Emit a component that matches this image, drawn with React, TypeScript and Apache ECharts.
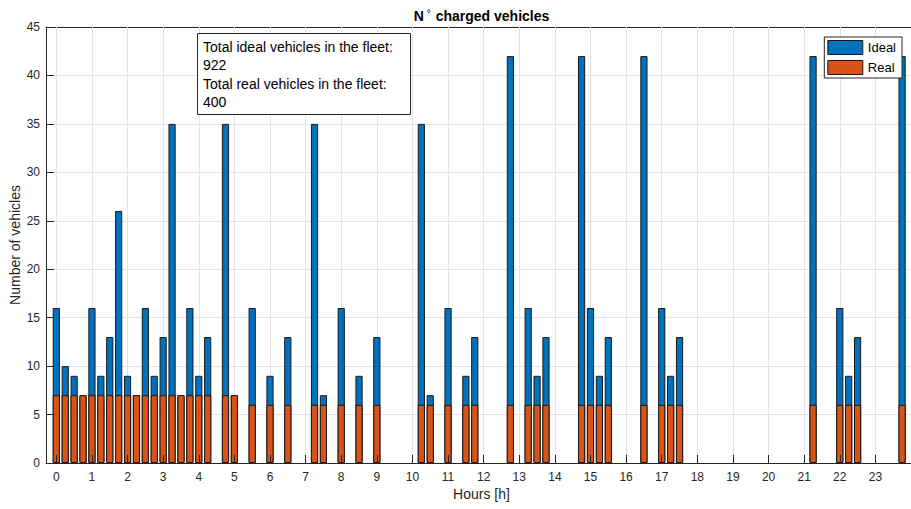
import React, { useEffect, useRef } from "react";
import * as echarts from "echarts";

// Quarter-hour slots (in hours) where at least one vehicle is charging
const slotHours = [
  0, 0.25, 0.5, 0.75, 1, 1.25, 1.5, 1.75, 2, 2.25, 2.5, 2.75, 3, 3.25, 3.5, 3.75, 4, 4.25,
  4.75, 5, 5.5, 6, 6.5, 7.25, 7.5, 8, 8.5, 9, 10.25, 10.5, 11, 11.5, 11.75, 12.75, 13.25,
  13.5, 13.75, 14.75, 15, 15.25, 15.5, 16.5, 17, 17.25, 17.5, 21.25, 22, 22.25, 22.5, 23.75,
];

// Charged vehicles per slot, ideal fleet
const idealVehicles = [
  16, 10, 9, 7, 16, 9, 13, 26, 9, 7, 16, 9, 13, 35, 7, 16, 9, 13,
  35, 7, 16, 9, 13, 35, 7, 16, 9, 13, 35, 7, 16, 9, 13, 42, 16,
  9, 13, 42, 16, 9, 13, 42, 16, 9, 13, 42, 16, 9, 13, 42,
];

// Charged vehicles per slot, real fleet
const realVehicles = [
  7, 7, 7, 7, 7, 7, 7, 7, 7, 7, 7, 7, 7, 7, 7, 7, 7, 7,
  7, 7, 6, 6, 6, 6, 6, 6, 6, 6, 6, 6, 6, 6, 6, 6, 6,
  6, 6, 6, 6, 6, 6, 6, 6, 6, 6, 6, 6, 6, 6, 6,
];

const hourTicks = Array.from({ length: 24 }, (_, i) => i);
const seriesNames = ["Ideal", "Real"];
const fleetNote = [
  "Total ideal vehicles in the fleet:",
  "922",
  "Total real vehicles in the fleet:",
  "400",
];

const FONT = "'Liberation Sans', Arial, Helvetica, sans-serif";
const INK = "#262626";
const GRID = "#e4e4e4";
const BLUE = "#0072BD";
const ORANGE = "#D95319";
const EDGE = "#1a1a1a";

const X_MIN = -0.29;
const X_MAX = 24;

export default function App() {
  const ref = useRef<HTMLDivElement>(null);

  useEffect(() => {
    if (!ref.current) return;
    const chart = echarts.init(ref.current, null, { renderer: "svg" });

    const idealData = slotHours.map((h, i) => [h, idealVehicles[i]]);
    const realData = slotHours.map((h, i) => [h, realVehicles[i]]);

    const xCommon = {
      type: "value",
      min: X_MIN,
      max: X_MAX,
      splitLine: { show: false },
    };
    const yCommon = {
      type: "value",
      min: 0,
      max: 45,
      interval: 5,
    };

    chart.setOption({
      animation: false,
      backgroundColor: "#ffffff",
      grid: { left: 46, top: 27, width: 872, height: 436, containLabel: false },
      xAxis: [
        {
          ...xCommon,
          position: "bottom",
          axisLine: { show: false, onZero: false },
          axisTick: { show: false },
          axisLabel: {
            customValues: hourTicks,
            color: INK,
            fontFamily: FONT,
            fontSize: 12,
            margin: 8,
          },
        },
        {
          ...xCommon,
          position: "top",
          axisLine: { show: true, onZero: false, lineStyle: { color: INK, width: 1 } },
          axisTick: {
            show: true,
            inside: true,
            length: 8,
            customValues: hourTicks,
            lineStyle: { color: INK, width: 1 },
          },
          axisLabel: { show: false },
        },
        {
          ...xCommon,
          position: "bottom",
          z: 5,
          axisLine: { show: true, onZero: false, lineStyle: { color: INK, width: 1 } },
          axisTick: {
            show: true,
            inside: true,
            length: 8,
            customValues: hourTicks,
            lineStyle: { color: INK, width: 1 },
          },
          axisLabel: { show: false },
        },
      ],
      yAxis: [
        {
          ...yCommon,
          position: "left",
          axisLine: { show: false, onZero: false },
          axisTick: { show: false },
          axisLabel: { color: INK, fontFamily: FONT, fontSize: 12, margin: 6 },
          splitLine: { show: true, lineStyle: { color: GRID, width: 1 } },
        },
        {
          ...yCommon,
          position: "left",
          z: 5,
          axisLine: { show: true, onZero: false, lineStyle: { color: INK, width: 1 } },
          axisTick: { show: true, inside: true, length: 8, lineStyle: { color: INK, width: 1 } },
          axisLabel: { show: false },
          splitLine: { show: false },
        },
      ],
      legend: {
        orient: "vertical",
        right: 9,
        top: 37,
        itemWidth: 35,
        itemHeight: 14,
        itemGap: 5,
        padding: [3, 6, 3, 3],
        backgroundColor: "#ffffff",
        borderColor: INK,
        borderWidth: 1,
        borderRadius: 0,
        textStyle: { color: "#000000", fontFamily: FONT, fontSize: 13 },
        data: [
          { name: seriesNames[0], icon: "rect", itemStyle: { color: BLUE, borderColor: EDGE, borderWidth: 1 } },
          { name: seriesNames[1], icon: "rect", itemStyle: { color: ORANGE, borderColor: EDGE, borderWidth: 1 } },
        ],
      },
      series: [
        {
          // vertical grid lines at each hour, kept behind the bars
          type: "line",
          name: "hourGrid",
          data: [],
          z: 1,
          silent: true,
          markLine: {
            z: 1,
            silent: true,
            symbol: "none",
            label: { show: false },
            lineStyle: { color: GRID, width: 1, type: "solid" },
            data: hourTicks.map((h) => ({ xAxis: h })),
          },
        },
        {
          type: "bar",
          name: seriesNames[0],
          data: idealData,
          barWidth: 7.2,
          barGap: "-100%",
          z: 2,
          itemStyle: { color: BLUE, borderColor: EDGE, borderWidth: 1 },
        },
        {
          type: "bar",
          name: seriesNames[1],
          data: realData,
          barWidth: 7.2,
          barGap: "-100%",
          z: 3,
          itemStyle: { color: ORANGE, borderColor: EDGE, borderWidth: 1 },
        },
      ],
      graphic: [
        {
          type: "text",
          x: 481.5,
          y: 16,
          z: 10,
          style: {
            text: "{b|N}{s|°}{b| charged vehicles}",
            align: "center",
            verticalAlign: "middle",
            fill: "#000000",
            rich: {
              b: { fontFamily: FONT, fontSize: 14, fontWeight: "bold", fill: "#000000" },
              s: {
                fontFamily: FONT,
                fontSize: 10,
                fill: "#000000",
                verticalAlign: "top",
                padding: [0, 1, 6, 3],
              },
            },
          },
        },
        {
          type: "text",
          x: 481.5,
          y: 494,
          style: {
            text: "Hours [h]",
            align: "center",
            verticalAlign: "middle",
            fill: INK,
            fontFamily: FONT,
            fontSize: 14,
          },
        },
        {
          type: "text",
          x: 15,
          y: 245,
          rotation: Math.PI / 2,
          style: {
            text: "Number of vehicles",
            align: "center",
            verticalAlign: "middle",
            fill: INK,
            fontFamily: FONT,
            fontSize: 14,
          },
        },
        {
          type: "rect",
          z: 10,
          shape: { x: 197.5, y: 33.5, width: 213, height: 81 },
          style: { fill: "#ffffff", stroke: INK, lineWidth: 1 },
        },
        {
          type: "text",
          z: 11,
          x: 203,
          y: 37.5,
          style: {
            text: fleetNote.join("\n"),
            fill: "#000000",
            fontFamily: FONT,
            fontSize: 14,
            lineHeight: 18.4,
            verticalAlign: "top",
            align: "left",
          },
        },
      ],
    });

    return () => chart.dispose();
  }, []);

  return (
    <div
      ref={ref}
      style={{ position: "fixed", left: 0, top: 0, width: 911, height: 509, background: "#ffffff" }}
    />
  );
}
